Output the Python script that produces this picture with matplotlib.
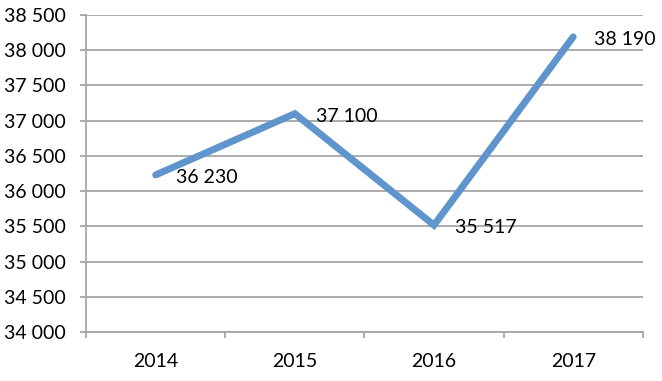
import matplotlib.pyplot as plt
from matplotlib.ticker import FixedLocator, FuncFormatter

# --Datos
years = ['2014', '2015', '2016', '2017']
values = [36230, 37100, 35517, 38190]

plt.rcParams['font.family'] = ['Lato', 'DejaVu Sans']

fig = plt.figure(figsize=(6.62, 3.81), dpi=100)
ax = fig.add_axes([0.130, 0.1286, 0.841, 0.832])

x = list(range(len(years)))
ax.plot(x, values, color='#5F95CC', lw=5, solid_capstyle='round', solid_joinstyle='miter', zorder=3)

# --Etiquetas de datos
for xi, v in zip(x, values):
    ax.annotate(f'{v:,}'.replace(',', ' '), (xi, v), xytext=(15, -2), textcoords='offset points',
                ha='left', va='center', fontsize=14, color='black')

# --Ejes
ax.set_xlim(-0.5, len(years) - 0.5)
ax.set_ylim(34000, 38500)
ax.set_yticks(range(34000, 38501, 500))
ax.yaxis.set_major_formatter(FuncFormatter(lambda v, p: f'{int(v):,}'.replace(',', ' ')))
ax.set_xticks(x)
ax.set_xticklabels(years)
ax.xaxis.set_minor_locator(FixedLocator([i - 0.5 for i in range(len(years) + 1)]))

grid_c = '#A6A6A6'
ax.grid(axis='y', color=grid_c, lw=1.3)
ax.set_axisbelow(True)
for s in ['top', 'right']:
    ax.spines[s].set_visible(False)
for s in ['left', 'bottom']:
    ax.spines[s].set_color(grid_c)
    ax.spines[s].set_linewidth(1.3)

ax.tick_params(axis='y', length=4.5, width=1.3, color=grid_c, pad=10, labelsize=14)
ax.tick_params(axis='x', which='major', length=0, pad=15, labelsize=14)
ax.tick_params(axis='x', which='minor', length=4.5, width=1.3, color=grid_c)

fig.savefig('out.png', dpi=100)
